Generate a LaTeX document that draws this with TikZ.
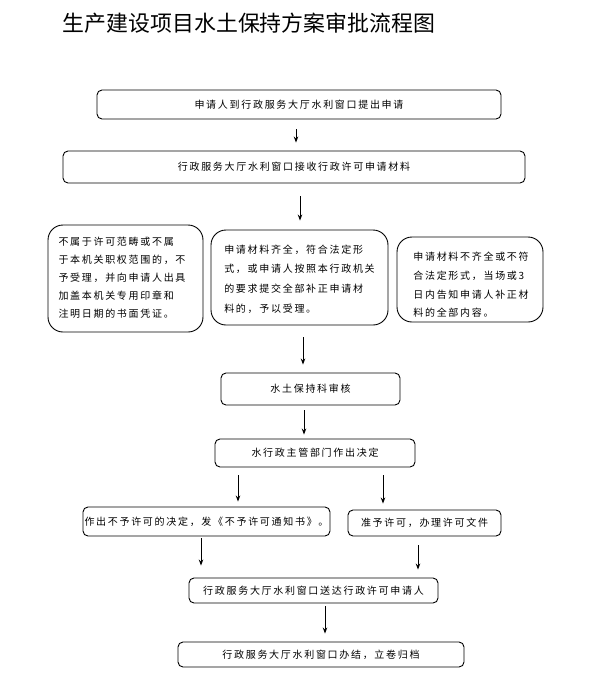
\documentclass[tikz,border=0pt]{standalone}
\usepackage{fontspec}
\newfontfamily\cjk{Noto Sans CJK SC}[LetterSpace=17]
\newfontfamily\cjktitle{Noto Sans CJK SC}
\usetikzlibrary{arrows.meta}
\begin{document}
\begin{tikzpicture}[x=1pt,y=-1pt,
  box/.style={draw=black, line width=0.9pt, rounded corners=5pt, inner sep=0pt,
    font=\cjk\fontsize{10}{18}\selectfont, align=center},
  bigbox/.style={draw=black, line width=0.9pt, rounded corners=15pt, inner sep=0pt,
    font=\cjk\fontsize{10}{19}\selectfont},
  arr/.style={-{Stealth[length=6pt,width=4.5pt]}, line width=0.9pt}]
\useasboundingbox[fill=white] (0,0) rectangle (591,681);
\node[font=\cjktitle\fontsize{21.9}{24}\selectfont] (title) at (249,23) {生产建设项目水土保持方案审批流程图};

\node[box, minimum width=404pt, minimum height=29pt] (A) at (299,104.5) {申请人到行政服务大厅水利窗口提出申请};
\node[box, minimum width=462pt, minimum height=32pt] (B) at (294,167) {行政服务大厅水利窗口接收行政许可申请材料};

\node[bigbox, minimum width=155pt, minimum height=107pt] (L) at (125.5,278.5) {};
\node[font=\cjk\fontsize{10}{18}\selectfont, align=left, anchor=center] (Lt) at (122,278) {不属于许可范畴或不属\\于本机关职权范围的，不\\予受理，并向申请人出具\\加盖本机关专用印章和\\注明日期的书面凭证。};

\node[bigbox, minimum width=177pt, minimum height=95pt] (M) at (299.5,277.5) {};
\node[font=\cjk\fontsize{10}{19.6}\selectfont, align=left, anchor=center] (Mt) at (299.5,279) {申请材料齐全，符合法定形\\式，或申请人按照本行政机关\\的要求提交全部补正申请材\\料的，予以受理。};

\node[bigbox, minimum width=146pt, minimum height=85pt] (R) at (470,279.5) {};
\node[font=\cjk\fontsize{10}{18.7}\selectfont, align=left, anchor=center] (Rt) at (471,285) {申请材料不齐全或不符\\合法定形式，当场或3\\日内告知申请人补正材\\料的全部内容。};

\node[box, minimum width=179pt, minimum height=32pt] (D) at (310.5,389) {水土保持科审核};
\node[box, minimum width=200pt, minimum height=28pt] (E) at (315,453) {水行政主管部门作出决定};
\node[box, minimum width=247pt, minimum height=29pt] (F) at (206.5,521.5) {作出不予许可的决定，发《不予许可通知书》。};
\node[box, minimum width=153pt, minimum height=26pt] (G) at (424.5,523) {准予许可，办理许可文件};
\node[box, minimum width=249pt, minimum height=25pt] (H) at (313.5,590.5) {行政服务大厅水利窗口送达行政许可申请人};
\node[box, minimum width=286pt, minimum height=25pt] (I) at (321,654.5) {行政服务大厅水利窗口办结，立卷归档};

\draw[arr, shorten <=10pt, shorten >=8pt] ([xshift=-3pt]A.south) -- ([xshift=-3pt]A.south |- B.north);
\draw[arr, shorten <=13pt, shorten >=9pt] ([xshift=6pt]B.south) -- ([xshift=6pt]B.south |- M.north);
\draw[arr, shorten <=12pt, shorten >=8pt] ([xshift=3.5pt]M.south) -- ([xshift=3.5pt]M.south |- D.north);
\draw[arr, shorten <=5pt, shorten >=4pt] ([xshift=-6.5pt]D.south) -- ([xshift=-6.5pt]D.south |- E.north);
\draw[arr, shorten <=8pt, shorten >=5pt] ([xshift=-77pt]E.south) -- ([xshift=-77pt]E.south |- F.north);
\draw[arr, shorten <=8pt, shorten >=6pt] ([xshift=68pt]E.south) -- ([xshift=68pt]E.south |- G.north);
\draw[arr, shorten <=2pt, shorten >=12pt] ([xshift=-5.5pt]F.south) -- ([xshift=-5.5pt]F.south |- H.north);
\draw[arr, shorten <=9pt, shorten >=8pt] ([xshift=-6.5pt]G.south) -- ([xshift=-6.5pt]G.south |- H.north);
\draw[arr, shorten <=3pt, shorten >=8pt] ([xshift=11.5pt]H.south) -- ([xshift=11.5pt]H.south |- I.north);
\end{tikzpicture}
\end{document}
